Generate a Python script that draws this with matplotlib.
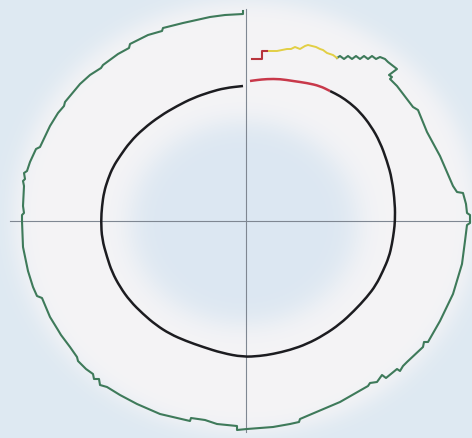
import numpy as np
import matplotlib
matplotlib.use("Agg")
import matplotlib.pyplot as plt
from matplotlib.path import Path
from matplotlib.patches import PathPatch

# Kinetic perimetry chart: two isopters around the fixation point.
# Coordinates are field positions relative to fixation (x: right, y: up).

# Outer isopter (green), traced from the top of the vertical meridian counter-clockwise
outer_x = [-3, -3, -21, -36, -63, -83, -84, -98, -116, -117, -128, -143, -145, -156, -166,
           -181, -182, -188, -196, -206, -210, -216, -219, -222, -221, -223, -222, -223,
           -222, -224, -224, -223, -218, -213, -209, -204, -196, -188, -185, -176, -169,
           -168, -160, -153, -152, -147, -146, -139, -126, -109, -86, -56, -55, -41, -29,
           -9, -9, 1, 27, 44, 53, 54, 61, 94, 122, 124, 131, 136, 140, 151, 154, 157, 161,
           177, 178, 182, 194, 207, 216, 219, 221, 224, 224, 221, 220, 217, 211, 207, 194,
           181, 172, 167, 151, 144, 146, 143, 151, 142, 139,
           134, 130, 126, 122, 118, 114, 110, 106, 102, 98, 94, 91]
outer_y = [210, 207, 206, 204, 198, 193, 190, 186, 177, 173, 167, 156, 153, 146, 137,
           119, 115, 108, 95, 74, 72, 59, 50, 48, 42, 40, 35, 15,
           8, 6, 0, -26, -50, -66, -75, -77, -96, -109, -114, -126, -136,
           -140, -148, -153, -158, -158, -164, -166, -174, -183, -193, -200, -197, -199, -203,
           -205, -209, -208, -206, -203, -201, -198, -195, -181, -165, -162, -161, -154, -157, -148, -150, -145, -141,
           -126, -121, -121, -100, -73, -43, -20, -4, -2, 6, 8, 17, 28, 29, 35, 65,
           89, 111, 114, 135, 142, 144, 146, 152, 159, 162,
           164, 162, 165, 162, 165, 162, 165, 162, 165, 162, 165, 163]

# Outer isopter, yellow portion near the upper vertical meridian
outer_yellow_x = [91, 87, 81, 77, 74, 70, 66, 62, 59, 54, 49, 45, 41, 36, 31, 27, 21]
outer_yellow_y = [163, 166, 168, 171, 172, 174, 175, 176, 175, 172, 174, 172, 172, 171, 170, 170, 170]

# Outer isopter, red portion ending at the vertical meridian
outer_red_x = [21, 16, 16, 6]
outer_red_y = [170, 170, 162, 162]

# Inner isopter (black), traced from the top of the vertical meridian counter-clockwise
inner_x = [-3, -21, -36, -53, -69, -86, -103, -116, -126, -133, -138, -142, -144, -145,
           -144, -139, -134, -126, -116, -103, -90, -76, -60, -43, -24, -3, 14, 27, 44,
           61, 78, 94, 108, 121, 130, 137, 143, 146, 148, 149, 149, 146, 141, 134, 125,
           114, 104, 94, 84]
inner_y = [135, 133, 129, 123, 115, 105, 92, 79, 65, 54, 42, 29, 15, 0,
           -18, -36, -51, -66, -80, -93, -104, -113, -120, -126, -132, -136, -135, -133, -129,
           -123, -114, -103, -90, -76, -64, -50, -36, -23, -10, 0, 17, 42, 60, 79, 95,
           109, 118, 125, 130]

# Inner isopter, red portion near the upper vertical meridian
inner_red_x = [84, 74, 61, 47, 34, 21, 11, 4]
inner_red_y = [130, 135, 138, 140, 142, 142, 141, 140]

# Meridian extents
h_meridian = [-236, 224]
v_meridian = [-211, 212]

XLIM = (-246, 226)
YLIM = (-217, 222)


def smooth_path(xs, ys):
    """Quadratic Bezier path through segment midpoints (keeps both end points)."""
    pts = np.column_stack([xs, ys]).astype(float)
    verts = [pts[0]]
    codes = [Path.MOVETO]
    mids = (pts[:-1] + pts[1:]) / 2.0
    verts.append(mids[0])
    codes.append(Path.LINETO)
    for i in range(1, len(pts) - 1):
        verts += [pts[i], mids[i]]
        codes += [Path.CURVE3, Path.CURVE3]
    verts.append(pts[-1])
    codes.append(Path.LINETO)
    return Path(verts, codes)


fig = plt.figure(figsize=(4.72, 4.39), dpi=100)
ax = fig.add_axes([0, 0, 1, 1])
ax.set_xlim(*XLIM)
ax.set_ylim(*YLIM)
ax.axis("off")

# Background shading: pale blue field, whitish ring, pale blue centre
gx = np.linspace(XLIM[0], XLIM[1], 472)
gy = np.linspace(YLIM[1], YLIM[0], 439)
X, Y = np.meshgrid(gx, gy)
r_out = np.sqrt((X / 232.0) ** 2 + ((Y - 4) / 216.0) ** 2)
r_in = np.sqrt(((X + 2) / 114.0) ** 2 + ((Y + 2) / 102.0) ** 2)
sig = lambda z: 1.0 / (1.0 + np.exp(-z))
w = sig((1.0 - r_out) / 0.03) * sig((r_in - 1.0) / 0.08)
bg = np.array([222, 233, 242]) / 255.0
centre = np.array([220, 231, 242]) / 255.0
ring = np.array([245, 244, 246]) / 255.0
inside = sig((1.0 - r_in) / 0.08)[..., None]
base = bg * (1 - inside) + centre * inside
img = base * (1 - w[..., None]) + ring * w[..., None]
ax.imshow(img, extent=(XLIM[0], XLIM[1], YLIM[0], YLIM[1]), aspect="auto", zorder=0,
          interpolation="bilinear")

# Meridians
ax.plot(h_meridian, [0, 0], color="#7f8792", lw=0.8, zorder=1)
ax.plot([0, 0], v_meridian, color="#7f8792", lw=0.8, zorder=1)

# Isopters
ax.plot(outer_x, outer_y, color="#3e7a5a", lw=1.5, zorder=3)
ax.plot(outer_yellow_x, outer_yellow_y, color="#e2cf45", lw=1.4, zorder=3)
ax.plot(outer_red_x, outer_red_y, color="#b8343c", lw=1.5, zorder=3)
ax.add_patch(PathPatch(smooth_path(inner_x, inner_y), fill=False,
                       edgecolor="#1c1c20", lw=1.8, zorder=3))
ax.add_patch(PathPatch(smooth_path(inner_red_x, inner_red_y), fill=False,
                       edgecolor="#c8384a", lw=1.8, zorder=3))

fig.savefig("out.png", dpi=100)
